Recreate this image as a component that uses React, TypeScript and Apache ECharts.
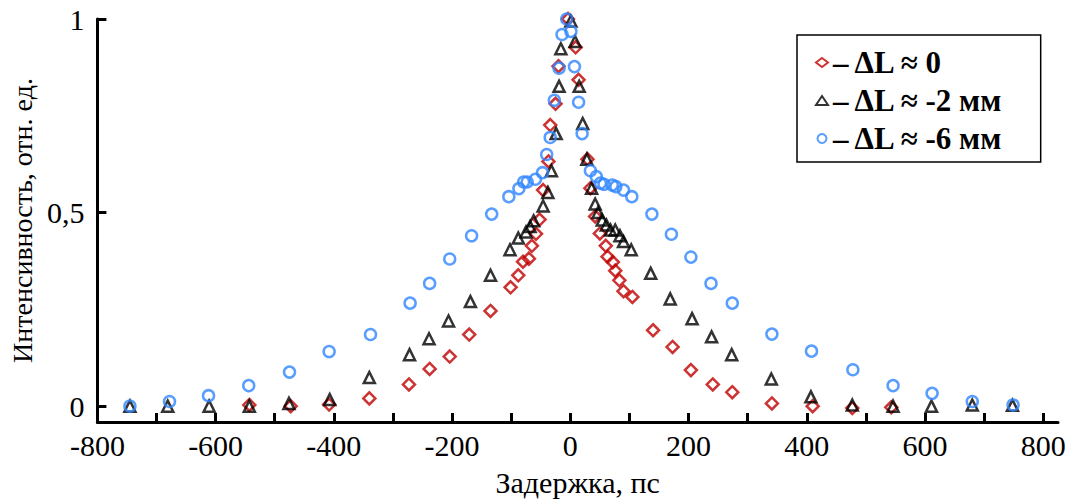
import React, { useEffect, useRef } from "react";
import * as echarts from "echarts";

// ΔL ≈ 0
const redX = [-543, -473, -408, -340, -273, -238, -204, -171, -135, -101, -88, -80, -70, -65, -58, -52, -46, -37, -34, -25, -20, -4, 9, 14, 29, 34, 42, 50, 60, 63, 72, 76, 83, 90, 105, 140, 173, 204, 241, 274, 341, 410, 477, 543];
const redY = [0.003, 0, 0.004, 0.02, 0.056, 0.096, 0.128, 0.185, 0.246, 0.307, 0.338, 0.373, 0.381, 0.414, 0.445, 0.482, 0.558, 0.632, 0.726, 0.781, 0.878, 1.0, 0.927, 0.843, 0.638, 0.563, 0.49, 0.446, 0.414, 0.386, 0.372, 0.35, 0.325, 0.297, 0.282, 0.196, 0.153, 0.093, 0.056, 0.036, 0.007, 0, -0.005, -0.003];

// ΔL ≈ -2 мм
const blackX = [-745, -681, -611, -543, -476, -407, -340, -272, -239, -206, -169, -135, -102, -88, -75, -68, -62, -46, -38, -32, -24, -19, -16, 1, 8, 15, 21, 28, 36, 42, 47, 54, 61, 68, 76, 84, 90, 103, 136, 169, 206, 239, 273, 340, 407, 477, 546, 611, 680, 748];
const blackY = [0, 0, 0, 0, 0.007, 0.017, 0.074, 0.133, 0.174, 0.22, 0.27, 0.338, 0.404, 0.434, 0.45, 0.464, 0.479, 0.517, 0.552, 0.608, 0.704, 0.826, 0.923, 0.995, 0.942, 0.826, 0.73, 0.638, 0.563, 0.522, 0.5, 0.481, 0.468, 0.455, 0.455, 0.44, 0.425, 0.404, 0.343, 0.277, 0.226, 0.179, 0.133, 0.07, 0.024, 0.003, 0, 0, 0.003, 0.002];

// ΔL ≈ -6 мм
const blueX = [-745, -678, -612, -544, -475, -408, -338, -271, -238, -204, -167, -133, -104, -87, -79, -73, -59, -47, -40, -34, -27, -19, -14, -6, 1, 7, 14, 20, 34, 44, 51, 57, 71, 77, 90, 104, 138, 171, 204, 238, 274, 341, 408, 478, 546, 612, 680, 749];
const blueY = [0, 0.012, 0.027, 0.053, 0.088, 0.141, 0.185, 0.266, 0.317, 0.38, 0.44, 0.496, 0.541, 0.562, 0.579, 0.579, 0.586, 0.603, 0.65, 0.694, 0.79, 0.873, 0.96, 1.0, 0.968, 0.877, 0.785, 0.704, 0.608, 0.593, 0.576, 0.573, 0.571, 0.567, 0.558, 0.541, 0.496, 0.444, 0.385, 0.317, 0.266, 0.186, 0.142, 0.094, 0.053, 0.033, 0.012, 0.003];

const seriesNames = ["ΔL ≈ 0", "ΔL ≈ -2 мм", "ΔL ≈ -6 мм"];
const xLabelValues = [-800, -600, -400, -200, 0, 200, 400, 600, 800];
const xTickValues = [-800, -700, -600, -500, -400, -300, -200, -100, 0, 100, 200, 300, 400, 500, 600, 700, 800];
const yTickValues = [0, 0.5, 1];
const xTitle = "Задержка, пс";
const yTitle = "Интенсивность, отн. ед.";

const FONT = "'Liberation Serif', 'Times New Roman', serif";
const RED = "#c00000";
const BLACK = "#000000";
const BLUE = "#2f86ff";

function pairs(xs: number[], ys: number[]) {
  return xs.map((x, i) => [x, ys[i]]);
}

export default function App() {
  const ref = useRef<HTMLDivElement>(null);
  useEffect(() => {
    if (!ref.current) return;
    const chart = echarts.init(ref.current, undefined, { renderer: "svg" });
    const mk = (name: string, data: number[][], symbol: string, color: string, size: number) => ({
      type: "scatter",
      name,
      data,
      symbol,
      symbolSize: size,
      itemStyle: { color: "rgba(0,0,0,0)", borderColor: color, borderWidth: 2.5 },
      emphasis: { disabled: true },
    });
    chart.setOption({
      animation: false,
      backgroundColor: "#ffffff",
      grid: { left: 95, right: 16, top: 19, bottom: 75 },
      xAxis: {
        type: "value",
        min: -800,
        max: 825,
        name: xTitle,
        nameLocation: "middle",
        nameGap: 45,
        nameTextStyle: { fontFamily: FONT, fontSize: 30, color: "#000" },
        axisLine: { onZero: false, lineStyle: { color: "#000", width: 3 } },
        axisTick: { show: true, inside: true, length: 9, lineStyle: { width: 3, color: "#000" }, customValues: xTickValues },
        axisLabel: { customValues: xLabelValues, fontFamily: FONT, fontSize: 30, color: "#000", margin: 8 },
        splitLine: { show: false },
      },
      yAxis: {
        type: "value",
        min: -0.041,
        max: 1,
        name: yTitle,
        nameLocation: "middle",
        nameGap: 57,
        nameTextStyle: { fontFamily: FONT, fontSize: 28, color: "#000" },
        axisLine: { show: true, onZero: false, lineStyle: { color: "#000", width: 3 } },
        axisTick: { show: true, inside: true, length: 9, lineStyle: { width: 3, color: "#000" }, customValues: yTickValues },
        axisLabel: {
          customValues: yTickValues,
          fontFamily: FONT,
          fontSize: 30,
          color: "#000",
          margin: 13,
          formatter: (v: number) => String(v).replace(".", ","),
        },
        splitLine: { show: false },
      },
      legend: {
        left: 797,
        top: 35,
        orient: "vertical",
        padding: [12, 36, 8, 18],
        itemGap: 7,
        itemWidth: 12,
        itemHeight: 9,
        borderColor: "#000",
        borderWidth: 1.5,
        backgroundColor: "#fff",
        formatter: (n: string) => "– " + n,
        textStyle: { fontFamily: FONT, fontSize: 31, fontWeight: "bold", color: "#000" },
        data: [
          { name: seriesNames[0], icon: "diamond", itemStyle: { color: "rgba(0,0,0,0)", borderColor: RED, borderWidth: 2 } },
          { name: seriesNames[1], icon: "triangle", itemStyle: { color: "rgba(0,0,0,0)", borderColor: BLACK, borderWidth: 2 } },
          { name: seriesNames[2], icon: "circle", itemStyle: { color: "rgba(0,0,0,0)", borderColor: BLUE, borderWidth: 2 } },
        ],
      },
      series: [
        mk(seriesNames[0], pairs(redX, redY), "diamond", RED, 12),
        mk(seriesNames[1], pairs(blackX, blackY), "triangle", BLACK, 11),
        mk(seriesNames[2], pairs(blueX, blueY), "circle", BLUE, 11),
      ],
    });
    return () => chart.dispose();
  }, []);
  return <div ref={ref} style={{ width: 1074, height: 502, position: "absolute", left: 0, top: 0 }} />;
}
